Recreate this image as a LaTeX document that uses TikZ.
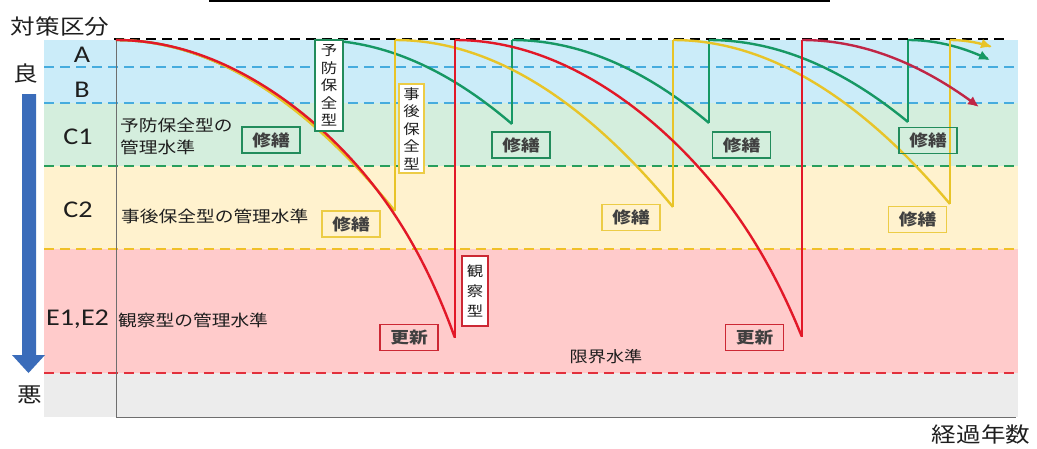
\documentclass[tikz,border=0pt]{standalone}
\usepackage{fontspec}
\setmainfont[FakeStretch=1.17]{Carlito}
\newfontfamily\jp[FakeStretch=1.17]{Noto Sans CJK JP}
\usetikzlibrary{arrows.meta}
\definecolor{bandblue}{RGB}{203,236,249}
\definecolor{bandgreen}{RGB}{212,238,221}
\definecolor{bandyellow}{RGB}{255,242,206}
\definecolor{bandpink}{RGB}{255,203,203}
\definecolor{bandgray}{RGB}{236,236,236}
\definecolor{dblue}{RGB}{70,172,222}
\definecolor{dgreen}{RGB}{40,158,92}
\definecolor{dyellow}{RGB}{240,192,40}
\definecolor{dred}{RGB}{226,48,60}
\definecolor{cgreen}{RGB}{22,152,100}
\definecolor{cyellow}{RGB}{232,196,40}
\definecolor{cred}{RGB}{226,24,40}
\definecolor{cdark}{RGB}{192,38,70}
\definecolor{bgreen}{RGB}{34,140,92}
\definecolor{byellow}{RGB}{236,204,70}
\definecolor{bred}{RGB}{204,40,52}
\definecolor{txt}{RGB}{30,30,30}
\definecolor{arrowblue}{RGB}{58,108,186}
\definecolor{axisgray}{RGB}{110,110,110}
\begin{document}
\begin{tikzpicture}[x=1pt,y=-1pt,
  dline/.style={line width=2.4pt,dash pattern=on 10pt off 6pt},
  curve/.style={line width=2.4pt,line join=round},
  lbox/.style={draw,line width=1.6pt,minimum width=58pt,minimum height=26pt,inner sep=0pt,
     font=\jp\bfseries\fontsize{16}{16}\selectfont,text=txt!85!white},
  vbox/.style={draw,fill=white,line width=1.6pt,inner sep=0pt,align=center,text=txt},
  jlabel/.style={font=\jp\fontsize{16}{22}\selectfont,text=txt,inner sep=0pt,align=left},
  klabel/.style={font=\fontsize{24}{24}\selectfont,text=txt,inner sep=0pt},
  tip/.style={-{Latex[length=11pt,width=10pt]}}
]
\useasboundingbox (0,0) rectangle (1037,448);
% top black line
\draw[line width=2pt] (209,1) -- (830,1);
% bands
\fill[bandblue] (44,40) rectangle (1018,103);
\fill[bandgreen] (44,103) rectangle (1018,166);
\fill[bandyellow] (44,166) rectangle (1018,249);
\fill[bandpink] (44,249) rectangle (1018,373);
\fill[bandgray] (44,373) rectangle (1018,417);
% dashed lines
\draw[dline,black,line width=2.8pt] (114,39) -- (1010,39);
\draw[dline,dblue] (44,67) -- (1018,67);
\draw[dline,dblue] (44,103) -- (1018,103);
\draw[dline,dgreen] (44,166) -- (1018,166);
\draw[dline,dyellow] (44,249) -- (1018,249);
\draw[dline,dred] (44,373) -- (1018,373);
% axes
\coordinate (O) at (116,417);
\coordinate (Ytop) at (116,39);
\coordinate (Xend) at (1016,417);
\draw[axisgray,line width=1pt] (Ytop) -- (O) -- (Xend);
% big arrow
\fill[arrowblue] (22,94) -- (36,94) -- (36,355) -- (45,355) -- (28.5,373) -- (12,355) -- (22,355) -- cycle;
% named points
\coordinate (g1) at (316,127); \coordinate (g1t) at (316,40);
\coordinate (g2) at (512,124); \coordinate (g2t) at (512,40);
\coordinate (g3) at (709,123); \coordinate (g3t) at (709,40);
\coordinate (g4) at (908,122); \coordinate (g4t) at (908,40);
\coordinate (y1) at (395,211); \coordinate (y1t) at (395,40);
\coordinate (y2) at (673,207); \coordinate (y2t) at (673,40);
\coordinate (y3) at (950,204); \coordinate (y3t) at (950,40);
\coordinate (r1) at (455,338); \coordinate (r1t) at (455,40);
\coordinate (r2) at (802,337); \coordinate (r2t) at (802,40);
% green curves
\draw[curve,cgreen] plot[domain=0:1,samples=40,smooth] ({116+200*\x},{40+87*\x*\x});
\draw[curve,cgreen] (g1) -- (g1t);
\draw[curve,cgreen] plot[domain=0:1,samples=40,smooth] ({316+196*\x},{40+84*\x*\x});
\draw[curve,cgreen] (g2) -- (g2t);
\draw[curve,cgreen] plot[domain=0:1,samples=40,smooth] ({512+197*\x},{40+83*\x*\x});
\draw[curve,cgreen] (g3) -- (g3t);
\draw[curve,cgreen] plot[domain=0:1,samples=40,smooth] ({709+199*\x},{40+82*\x*\x});
\draw[curve,cgreen] (g4) -- (g4t);
\draw[curve,cgreen,tip] plot[domain=0:1,samples=20,smooth] ({908+82*\x},{40+20*\x*\x});
% yellow curves
\draw[curve,cyellow] plot[domain=0:1,samples=40,smooth] ({116+279*\x},{40+171*\x*\x});
\draw[curve,cyellow] (y1) -- (y1t);
\draw[curve,cyellow] plot[domain=0:1,samples=40,smooth] ({395+278*\x},{40+167*\x*\x});
\draw[curve,cyellow] (y2) -- (y2t);
\draw[curve,cyellow] plot[domain=0:1,samples=40,smooth] ({673+277*\x},{40+164*\x*\x});
\draw[curve,cyellow] (y3) -- (y3t);
\draw[curve,cyellow,tip] plot[domain=0:1,samples=20,smooth] ({950+42*\x},{40+7*\x*\x});
% red curves
\draw[curve,cred] plot[domain=0:1,samples=60,smooth] ({116+339*\x},{40+241*\x*\x+57*\x^8});
\draw[curve,cred] (r1) -- (r1t);
\draw[curve,cred] plot[domain=0:1,samples=60,smooth] ({455+347*\x},{40+253*\x*\x+44*\x^8});
\draw[curve,cred] (r2) -- (r2t);
\draw[curve,cdark,tip] plot[domain=0:1,samples=30,smooth] ({802+177*\x},{40+67*\x*\x});
% vertical type boxes
\node[vbox,draw=bgreen,minimum width=28pt,minimum height=91pt,font=\jp\fontsize{14}{17.5}\selectfont]
  (vg) at (329,85.5) {予\\防\\保\\全\\型};
\node[vbox,draw=byellow,minimum width=25pt,minimum height=89pt,font=\jp\fontsize{14}{17.5}\selectfont]
  (vy) at (411.5,128.5) {事\\後\\保\\全\\型};
\node[vbox,draw=bred,minimum width=26pt,minimum height=70pt,font=\jp\fontsize{14}{20}\selectfont]
  (vr) at (475,291) {観\\察\\型};
% repair boxes
\node[lbox,draw=bgreen] (sg1) at (271,140) {修繕};
\node[lbox,draw=bgreen] (sg2) at (521,145) {修繕};
\node[lbox,draw=bgreen] (sg3) at (741.5,145) {修繕};
\node[lbox,draw=bgreen] (sg4) at (928,140.5) {修繕};
\node[lbox,draw=byellow] (sy1) at (351,224) {修繕};
\node[lbox,draw=byellow] (sy2) at (631,217.5) {修繕};
\node[lbox,draw=byellow] (sy3) at (917.5,219.5) {修繕};
\node[lbox,draw=bred] (kr1) at (409,337.5) {更新};
\node[lbox,draw=bred] (kr2) at (754.5,337.5) {更新};
% category labels
\node[font=\jp\fontsize{21}{21}\selectfont,text=txt,inner sep=0pt] (title) at (60,27) {対策区分};
\node[font=\jp\fontsize{21}{21}\selectfont,text=txt,inner sep=0pt] (good) at (26,74) {良};
\node[font=\jp\fontsize{21}{21}\selectfont,text=txt,inner sep=0pt] (bad) at (30,395) {悪};
\node[klabel] (A) at (82,55) {A};
\node[klabel] (B) at (82,90) {B};
\node[klabel] (C1) at (78,137) {C1};
\node[klabel] (C2) at (78,210) {C2};
\node[klabel] (E) at (77.5,319) {E1,E2};
\node[jlabel,anchor=west] (pl) at (120,136) {予防保全型の\\管理水準};
\node[jlabel,anchor=west] (cl) at (121,216.5) {事後保全型の管理水準};
\node[jlabel,anchor=west] (ol) at (118,320) {観察型の管理水準};
\node[jlabel,font=\jp\fontsize{15.5}{16}\selectfont] (lim) at (606,357) {限界水準};
\node[font=\jp\fontsize{21}{21}\selectfont,text=txt,inner sep=0pt] (xl) at (981,435) {経過年数};
\end{tikzpicture}
\end{document}
